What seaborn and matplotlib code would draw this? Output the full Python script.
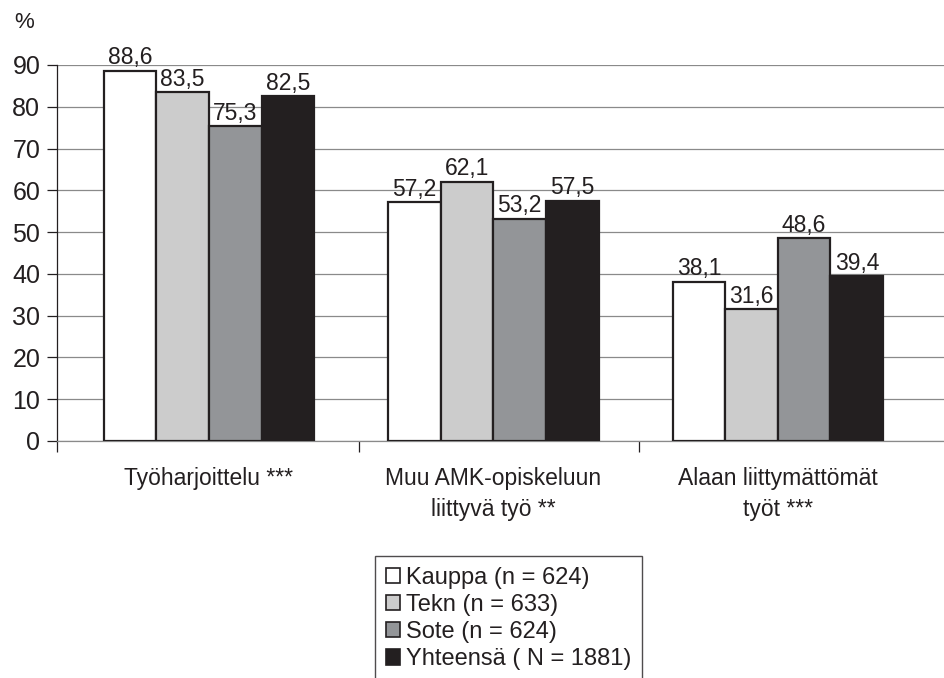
import matplotlib
matplotlib.use("Agg")
import matplotlib.pyplot as plt
import seaborn as sns
import pandas as pd
from matplotlib.patches import Patch

categories = ["Työharjoittelu ***", "Muu AMK-opiskeluun\nliittyvä työ **", "Alaan liittymättömät\ntyöt ***"]
groups = ["Kauppa (n = 624)", "Tekn (n = 633)", "Sote (n = 624)", "Yhteensä ( N = 1881)"]
kauppa = [88.6, 57.2, 38.1]
tekn = [83.5, 62.1, 31.6]
sote = [75.3, 53.2, 48.6]
yhteensa = [82.5, 57.5, 39.4]
yticks = [0, 10, 20, 30, 40, 50, 60, 70, 80, 90]

colors = ["#ffffff", "#cccccc", "#939598", "#231f20"]
series = [kauppa, tekn, sote, yhteensa]

rows = []
for g, vals in zip(groups, series):
    for c, v in zip(categories, vals):
        rows.append({"cat": c, "group": g, "value": v})
df = pd.DataFrame(rows)

sns.set_theme(style="white")
plt.rcParams["font.family"] = ["Liberation Sans", "DejaVu Sans"]

fig = plt.figure(figsize=(9.44, 6.78), dpi=100)
ax = fig.add_axes([57 / 944, 1 - 441 / 678, 1 - 57 / 944, (441 - 65) / 678])

sns.barplot(data=df, x="cat", y="value", hue="group", palette=colors,
            order=categories, hue_order=groups, width=0.74,
            edgecolor="#231f20", linewidth=1.6, saturation=1, ax=ax, zorder=3)

ax.get_legend().remove()
ax.set_ylim(0, 90)
ax.set_xlim(-0.534, 2.584)
ax.set_yticks(yticks)
ax.set_yticklabels([str(t) for t in yticks], fontsize=18, color="#231f20")
ax.yaxis.grid(True, color="#8a8a8a", linewidth=0.9, zorder=0)
ax.set_axisbelow(True)
ax.tick_params(axis="y", which="major", length=7, width=0.9, color="#231f20", left=True, pad=5)
ax.tick_params(axis="x", which="major", length=0, pad=19, labelsize=16.5, labelcolor="#231f20")
for lbl in ax.get_xticklabels():
    lbl.set_linespacing(1.4)
ax.set_xticks([-0.534, 0.528, 1.512], minor=True)
ax.tick_params(axis="x", which="minor", length=8, width=0.9, color="#231f20", bottom=True)
ax.set_xlabel("")
ax.set_ylabel("")
for s in ["top", "right"]:
    ax.spines[s].set_visible(False)
ax.spines["left"].set_color("#231f20")
ax.spines["left"].set_linewidth(0.9)
ax.spines["bottom"].set_color("#8a8a8a")
ax.spines["bottom"].set_linewidth(0.9)

for cont, vals in zip(ax.containers, series):
    ax.bar_label(cont, labels=[f"{v:.1f}".replace(".", ",") for v in vals],
                 padding=1, fontsize=16.5, color="#231f20")

fig.text(24 / 944, 1 - 22 / 678, "%", fontsize=16, color="#231f20", va="center", ha="center")

handles = [Patch(facecolor=c, edgecolor="#231f20", linewidth=1.2) for c in colors]
leg = fig.legend(handles=handles, labels=groups, loc="upper left",
                 bbox_to_anchor=(375 / 944, 1 - 556 / 678), fontsize=17,
                 frameon=True, fancybox=False, handlelength=0.62, handleheight=0.62,
                 handletextpad=0.25, labelspacing=0.22, borderpad=0.45, borderaxespad=0)
leg.get_frame().set_edgecolor("#231f20")
leg.get_frame().set_linewidth(1.0)
for t in leg.get_texts():
    t.set_color("#231f20")

fig.savefig("out.png", dpi=100)
